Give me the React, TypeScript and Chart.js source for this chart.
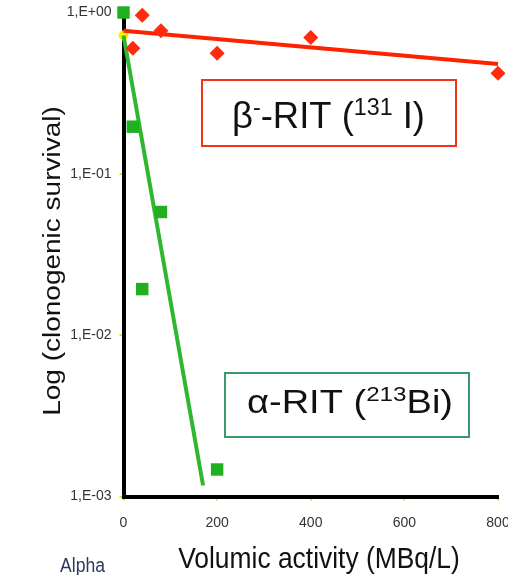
import React, { useEffect, useRef } from "react";
import { Chart, registerables } from "chart.js";

Chart.register(...registerables);

// ---- data ----
const betaActivity = [20, 40, 80, 200, 400, 800];
const betaSurvival = [0.6, 0.96, 0.77, 0.56, 0.7, 0.42];
const alphaActivity = [0, 20, 40, 80, 200];
const alphaSurvival = [1.0, 0.196, 0.0193, 0.058, 0.00147];
const betaFitX = [0, 800];
const betaFitY = [0.77, 0.48];
const alphaFitX = [0, 170];
const alphaFitY = [0.72, 0.00117];
const yTickValues = [1, 0.1, 0.01, 0.001];
const yTickLabels = ["1,E+00", "1,E-01", "1,E-02", "1,E-03"];
const xTickValues = [0, 200, 400, 600, 800];

const FONT = "'Liberation Sans', Arial, sans-serif";

const zip = (xs: number[], ys: number[]) => xs.map((x, i) => ({ x, y: ys[i] }));

function drawSegments(
  ctx: CanvasRenderingContext2D,
  segs: { t: string; sup?: boolean }[],
  left: number,
  baseline: number,
  size: number,
  targetWidth: number
) {
  const supSize = Math.round(size * 0.64);
  const widths = segs.map((s) => {
    ctx.font = `${s.sup ? supSize : size}px ${FONT}`;
    return ctx.measureText(s.t).width;
  });
  const total = widths.reduce((a, b) => a + b, 0);
  const sx = targetWidth / total;
  ctx.save();
  ctx.translate(left, baseline);
  ctx.scale(sx, 1);
  let x = 0;
  ctx.textBaseline = "alphabetic";
  ctx.textAlign = "left";
  segs.forEach((s, i) => {
    ctx.font = `${s.sup ? supSize : size}px ${FONT}`;
    ctx.fillText(s.t, x, s.sup ? -size * 0.36 : 0);
    x += widths[i];
  });
  ctx.restore();
}

const annotationPlugin = {
  id: "annots",
  afterDraw(chart: any) {
    const ctx: CanvasRenderingContext2D = chart.ctx;
    ctx.save();
    // boxes
    ctx.lineWidth = 2;
    ctx.strokeStyle = "#f0331a";
    ctx.strokeRect(202, 80, 254, 66);
    ctx.strokeStyle = "#3a9a6e";
    ctx.strokeRect(225, 373, 244, 64);
    ctx.fillStyle = "#111";
    drawSegments(
      ctx,
      [{ t: "β" }, { t: "-", sup: true }, { t: "-RIT (" }, { t: "131", sup: true }, { t: " I)" }],
      232,
      128,
      36,
      193
    );
    drawSegments(
      ctx,
      [{ t: "α-RIT (" }, { t: "213", sup: true }, { t: "Bi)" }],
      247,
      413,
      33,
      206
    );
    // x title
    ctx.fillStyle = "#111";
    ctx.save();
    ctx.translate(319, 568);
    ctx.scale(0.88, 1);
    ctx.font = `30px ${FONT}`;
    ctx.textAlign = "center";
    ctx.textBaseline = "alphabetic";
    ctx.fillText("Volumic activity (MBq/L)", 0, 0);
    ctx.restore();
    // y title
    ctx.save();
    ctx.translate(60, 261);
    ctx.scale(0.88, 1);
    ctx.rotate(-Math.PI / 2);
    ctx.font = `28px ${FONT}`;
    ctx.textAlign = "center";
    ctx.textBaseline = "alphabetic";
    ctx.fillText("Log (clonogenic survival)", 0, 0);
    ctx.restore();
    // Alpha
    ctx.save();
    ctx.translate(60, 572);
    ctx.scale(0.88, 1);
    ctx.font = `20px ${FONT}`;
    ctx.fillStyle = "#2d3b62";
    ctx.textAlign = "left";
    ctx.fillText("Alpha", 0, 0);
    ctx.restore();
    ctx.restore();
  },
};

export default function App() {
  const ref = useRef<HTMLCanvasElement>(null);
  useEffect(() => {
    if (!ref.current) return;
    const chart = new Chart(ref.current, {
      type: "scatter",
      data: {
        datasets: [
          {
            label: "beta points",
            data: zip(betaActivity, betaSurvival),
            pointStyle: "rectRot",
            pointRadius: 7.5,
            backgroundColor: "#ff2b0d",
            borderWidth: 0,
            clip: false,
            order: 1,
          },
          {
            label: "alpha points",
            data: zip(alphaActivity, alphaSurvival),
            pointStyle: "rect",
            pointRadius: 8.8,
            backgroundColor: "#1faf1f",
            borderWidth: 0,
            clip: false,
            order: 1,
          },
          {
            label: "origin",
            data: [{ x: 0, y: alphaFitY[0] }],
            pointStyle: "circle",
            pointRadius: 5,
            backgroundColor: "#ffee00",
            borderWidth: 0,
            clip: false,
            order: 3,
          },
          {
            label: "beta fit",
            data: zip(betaFitX, betaFitY),
            showLine: true,
            pointRadius: 0,
            borderColor: "#ff2200",
            borderWidth: 4,
            clip: false,
            order: 2,
          },
          {
            label: "alpha fit",
            data: zip(alphaFitX, alphaFitY),
            showLine: true,
            pointRadius: 0,
            borderColor: "#2fb82f",
            borderWidth: 4,
            clip: false,
            order: 2,
          },
        ],
      },
      options: {
        animation: false,
        responsive: false,
        layout: { padding: { top: 12.5, right: 10, left: 0, bottom: 0 } },
        plugins: { legend: { display: false }, tooltip: { enabled: false } },
        scales: {
          x: {
            type: "linear",
            min: 0,
            max: 800,
            afterBuildTicks: (s: any) => {
              s.ticks = xTickValues.map((v) => ({ value: v }));
            },
            afterFit: (s: any) => {
              s.height = 78.5;
              s.paddingLeft = 0;
              s.paddingRight = 0;
            },
            ticks: {
              font: { family: FONT, size: 14 },
              color: "#333",
              padding: 14,
              maxRotation: 0,
            },
            grid: {
              drawOnChartArea: false,
              tickColor: "#f2e200",
              tickLength: 4,
              lineWidth: 2,
            },
            border: { color: "#000", width: 4 },
          },
          y: {
            type: "logarithmic",
            min: 0.001,
            max: 1,
            afterBuildTicks: (s: any) => {
              s.ticks = yTickValues.map((v) => ({ value: v }));
            },
            afterFit: (s: any) => {
              s.width = 123.5;
              s.paddingTop = 0;
              s.paddingBottom = 0;
            },
            ticks: {
              font: { family: FONT, size: 14 },
              color: "#333",
              padding: 8,
              callback: (v: any) => {
                const i = yTickValues.findIndex((t) => Math.abs(t - Number(v)) < 1e-9);
                return i >= 0 ? yTickLabels[i] : "";
              },
            },
            grid: {
              drawOnChartArea: false,
              tickColor: "#f2e200",
              tickLength: 4,
              lineWidth: 2,
            },
            border: { color: "#000", width: 4 },
          },
        },
      },
      plugins: [annotationPlugin],
    } as any);
    return () => chart.destroy();
  }, []);
  return (
    <div style={{ position: "absolute", left: 0, top: 0, width: 508, height: 575 }}>
      <canvas ref={ref} width={508} height={575} style={{ display: "block" }} />
    </div>
  );
}
